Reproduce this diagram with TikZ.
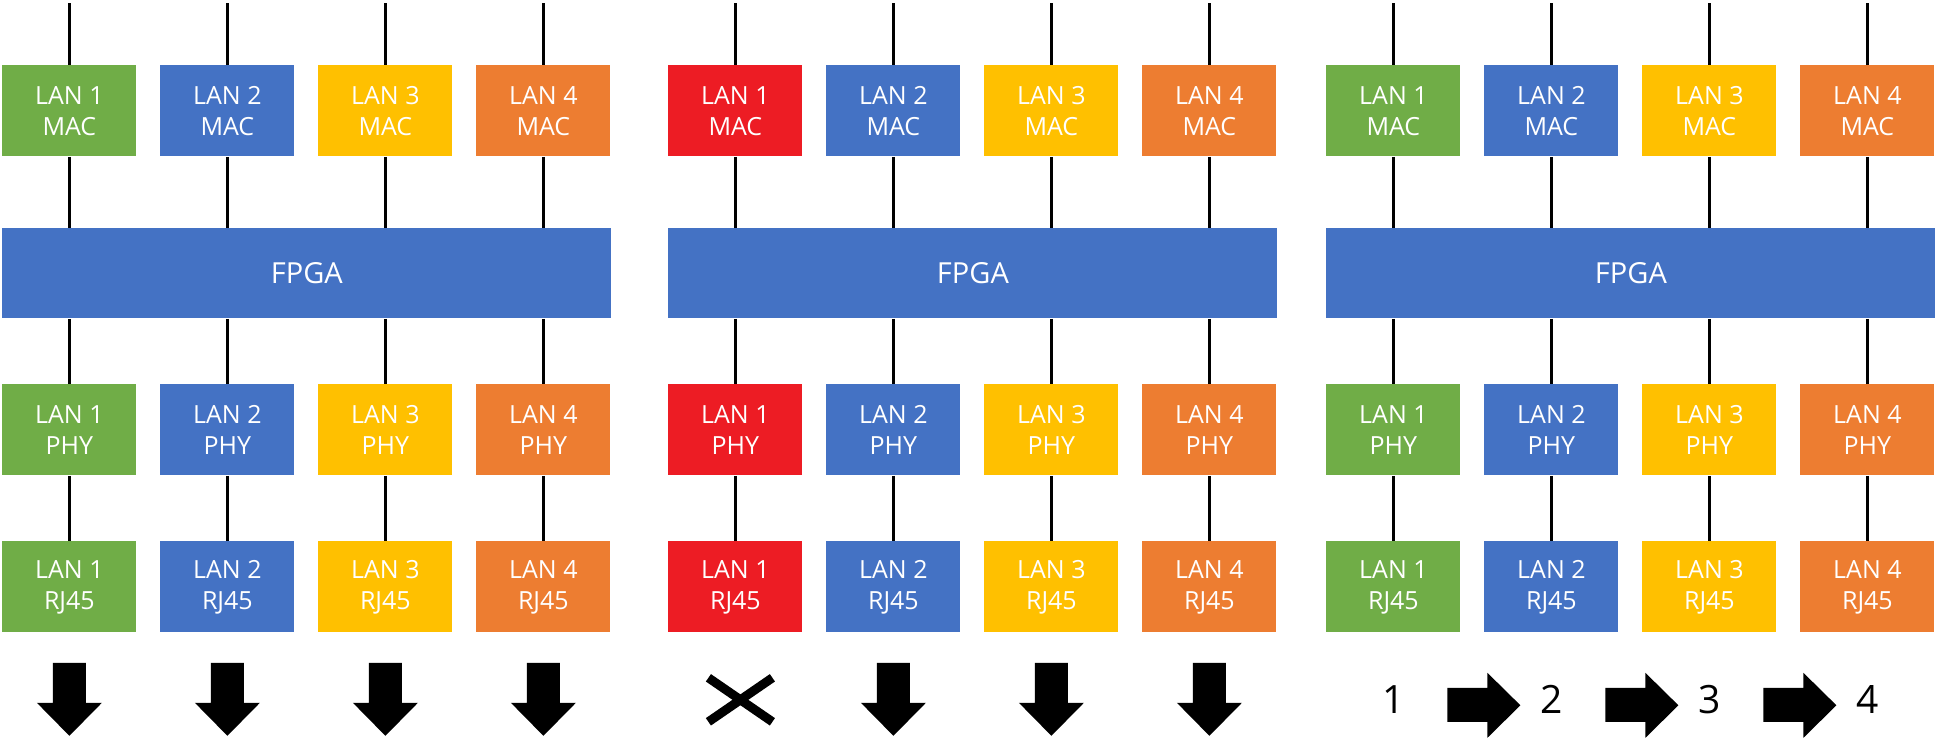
\documentclass[tikz,border=0pt]{standalone}
\usepackage{fontspec}
\setmainfont{Open Sans}
\usetikzlibrary{positioning}

\definecolor{langreen}{HTML}{70AD47}
\definecolor{lanblue}{HTML}{4472C4}
\definecolor{lanyellow}{HTML}{FFC000}
\definecolor{lanorange}{HTML}{ED7D31}
\definecolor{lanred}{HTML}{ED1C24}

\tikzset{
  lanbox/.style={fill=#1, text=white, minimum width=67pt, minimum height=45.5pt,
    inner sep=0pt, align=center, font=\fontsize{12.5}{15.5}\selectfont},
  fpgabox/.style={fill=lanblue, text=white, minimum width=304.5pt, minimum height=45pt,
    inner sep=0pt, font=\fontsize{14.5}{17}\selectfont},
  wire/.style={line width=1.2pt},
  numlabel/.style={inner sep=0pt, font=\fontsize{19.5}{22}\selectfont},
}

\begin{document}
\begin{tikzpicture}[x=0.5pt,y=-0.5pt]
      % Page size of the reference
      \useasboundingbox (0,0) rectangle (1938,741);

      % Define the column pitch
      \def\ColStep{158}

      % Three panels: normal, LAN 1 broken, sequential
      \foreach \p/\px/\first in {a/2/langreen, b/668/lanred, c/1326/langreen} {
        \node[fpgabox, anchor=north west] (fpga-\p) at (\px,228) {FPGA};
        \foreach \i/\col in {1/\first, 2/lanblue, 3/lanyellow, 4/lanorange} {
          % Draw the blocks of one lane
          \node[lanbox=\col, anchor=north west] (mac-\p\i) at ({\px+(\i-1)*\ColStep},65) {LAN \i\\MAC};
          \node[lanbox=\col, anchor=north west] (phy-\p\i) at ({\px+(\i-1)*\ColStep},384) {LAN \i\\PHY};
          \node[lanbox=\col, anchor=north west] (rj-\p\i) at ({\px+(\i-1)*\ColStep},541) {LAN \i\\RJ45};

          % Draw the wires
          \path (mac-\p\i.north) ++(0,-62) coordinate (top-\p\i);
          \draw[wire] (top-\p\i) -- (mac-\p\i);
          \draw[wire] (mac-\p\i) -- (mac-\p\i.south |- fpga-\p.north);
          \draw[wire] (phy-\p\i.north |- fpga-\p.south) -- (phy-\p\i);
          \draw[wire] (phy-\p\i) -- (rj-\p\i);
        }
      }

      % Down arrows under working ports
      \foreach \p/\i in {a/1, a/2, a/3, a/4, b/2, b/3, b/4} {
        \fill (rj-\p\i.south) ++(-16.5,30) -- ++(33,0) -- ++(0,40) -- ++(16,0)
          -- ++(-32.5,33) -- ++(-32.5,-33) -- ++(16,0) -- cycle;
      }

      % Cross under the broken port
      \draw[line width=4.5pt] (rj-b1.south) ++(-27,45) -- ++(64,44);
      \draw[line width=4.5pt] (rj-b1.south) ++(-27,89) -- ++(64,-44);

      % Sequence numbers
      \foreach \i in {1,...,4} {
        \path (rj-c\i.south) ++(0,67) node[numlabel] (num-\i) {\i};
      }
      \foreach \i in {1,2,3} {
        \fill (num-\i.center) ++(54,-12) -- ++(40,0) -- ++(0,-15) -- ++(33,32.5)
          -- ++(-33,32.5) -- ++(0,-16) -- ++(-40,0) -- cycle;
      }
\end{tikzpicture}
\end{document}
